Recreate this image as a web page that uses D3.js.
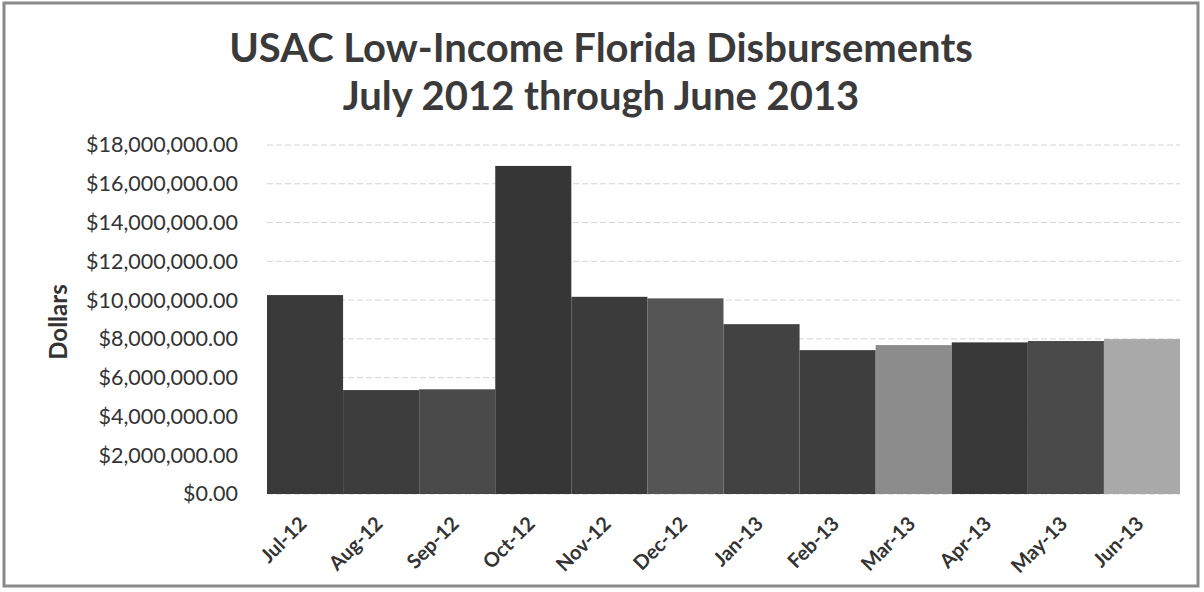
<!DOCTYPE html>
<html><head><meta charset="utf-8">
<script src="https://cdn.jsdelivr.net/npm/d3@7"></script>
<style>body{margin:0;background:#fff;}svg{display:block;}</style>
</head><body>
<script>
const months = ["Jul-12","Aug-12","Sep-12","Oct-12","Nov-12","Dec-12","Jan-13","Feb-13","Mar-13","Apr-13","May-13","Jun-13"];
const disbursements = [10260000,5360000,5400000,16920000,10170000,10090000,8760000,7420000,7680000,7820000,7890000,7990000];
const barColors = ["#3a3a3a","#3d3d3d","#4a4a4a","#363636","#3b3b3b","#555555","#424242","#3e3e3e","#8c8c8c","#383838","#4a4a4a","#a9a9a9"];
const yTicks = [0,2000000,4000000,6000000,8000000,10000000,12000000,14000000,16000000,18000000];
const titleLines = ["USAC Low-Income Florida Disbursements","July 2012 through June 2013"];
const yTitle = "Dollars";

const W=1204,H=592;
const svg=d3.select("body").append("svg").attr("width",W).attr("height",H);
svg.append("rect").attr("x",4).attr("y",3).attr("width",1194).attr("height",583)
  .attr("fill","#fff").attr("stroke","#8a8a8a").attr("stroke-width",3);

const m={l:267,r:1180,t:145,b:494};
const x=d3.scaleBand().domain(months).range([m.l,m.r]).padding(0);
const y=d3.scaleLinear().domain([0,18000000]).range([m.b,m.t]);

const font="Lato, 'Open Sans', sans-serif";
svg.append("g").selectAll("line").data(yTicks).join("line")
  .attr("x1",m.l).attr("x2",m.r).attr("y1",d=>y(d)).attr("y2",d=>y(d))
  .attr("stroke","#d4d4d4").attr("stroke-width",1).attr("stroke-dasharray","6,3");

svg.append("g").selectAll("rect").data(months).join("rect")
  .attr("x",d=>x(d)).attr("width",x.bandwidth())
  .attr("y",(d,i)=>y(disbursements[i])).attr("height",(d,i)=>y(0)-y(disbursements[i]))
  .attr("fill",(d,i)=>barColors[i]);

const fmt=d3.format("$,.2f");
const ya=d3.axisLeft(y).tickValues(yTicks).tickFormat(fmt).tickSize(0).tickPadding(29);
const yg=svg.append("g").attr("transform",`translate(${m.l},0)`).call(ya);
yg.select(".domain").remove();
yg.selectAll("text").attr("font-family",font).attr("font-size",21.5).attr("fill","#333");

const xa=d3.axisBottom(x).tickSize(0).tickPadding(0);
const xg=svg.append("g").attr("transform",`translate(0,${m.b})`).call(xa);
xg.select(".domain").remove();
xg.selectAll("text").attr("font-family",font).attr("font-size",20).attr("font-weight",700).attr("fill","#333")
  .attr("text-anchor","end").attr("dy","0.35em")
  .attr("transform","translate(-2,26) rotate(-45)");

svg.append("text").attr("transform","translate(67,322) rotate(-90)")
  .attr("text-anchor","middle").attr("font-family",font).attr("font-weight",700)
  .attr("font-size",24).attr("fill","#333").text(yTitle);

svg.selectAll("text.title").data(titleLines).join("text").attr("class","title")
  .attr("x",601).attr("y",(d,i)=>62+i*48).attr("text-anchor","middle")
  .attr("font-family",font).attr("font-weight",700).attr("font-size",40).attr("fill","#3a3a3a").text(d=>d);
</script>
</body></html>
